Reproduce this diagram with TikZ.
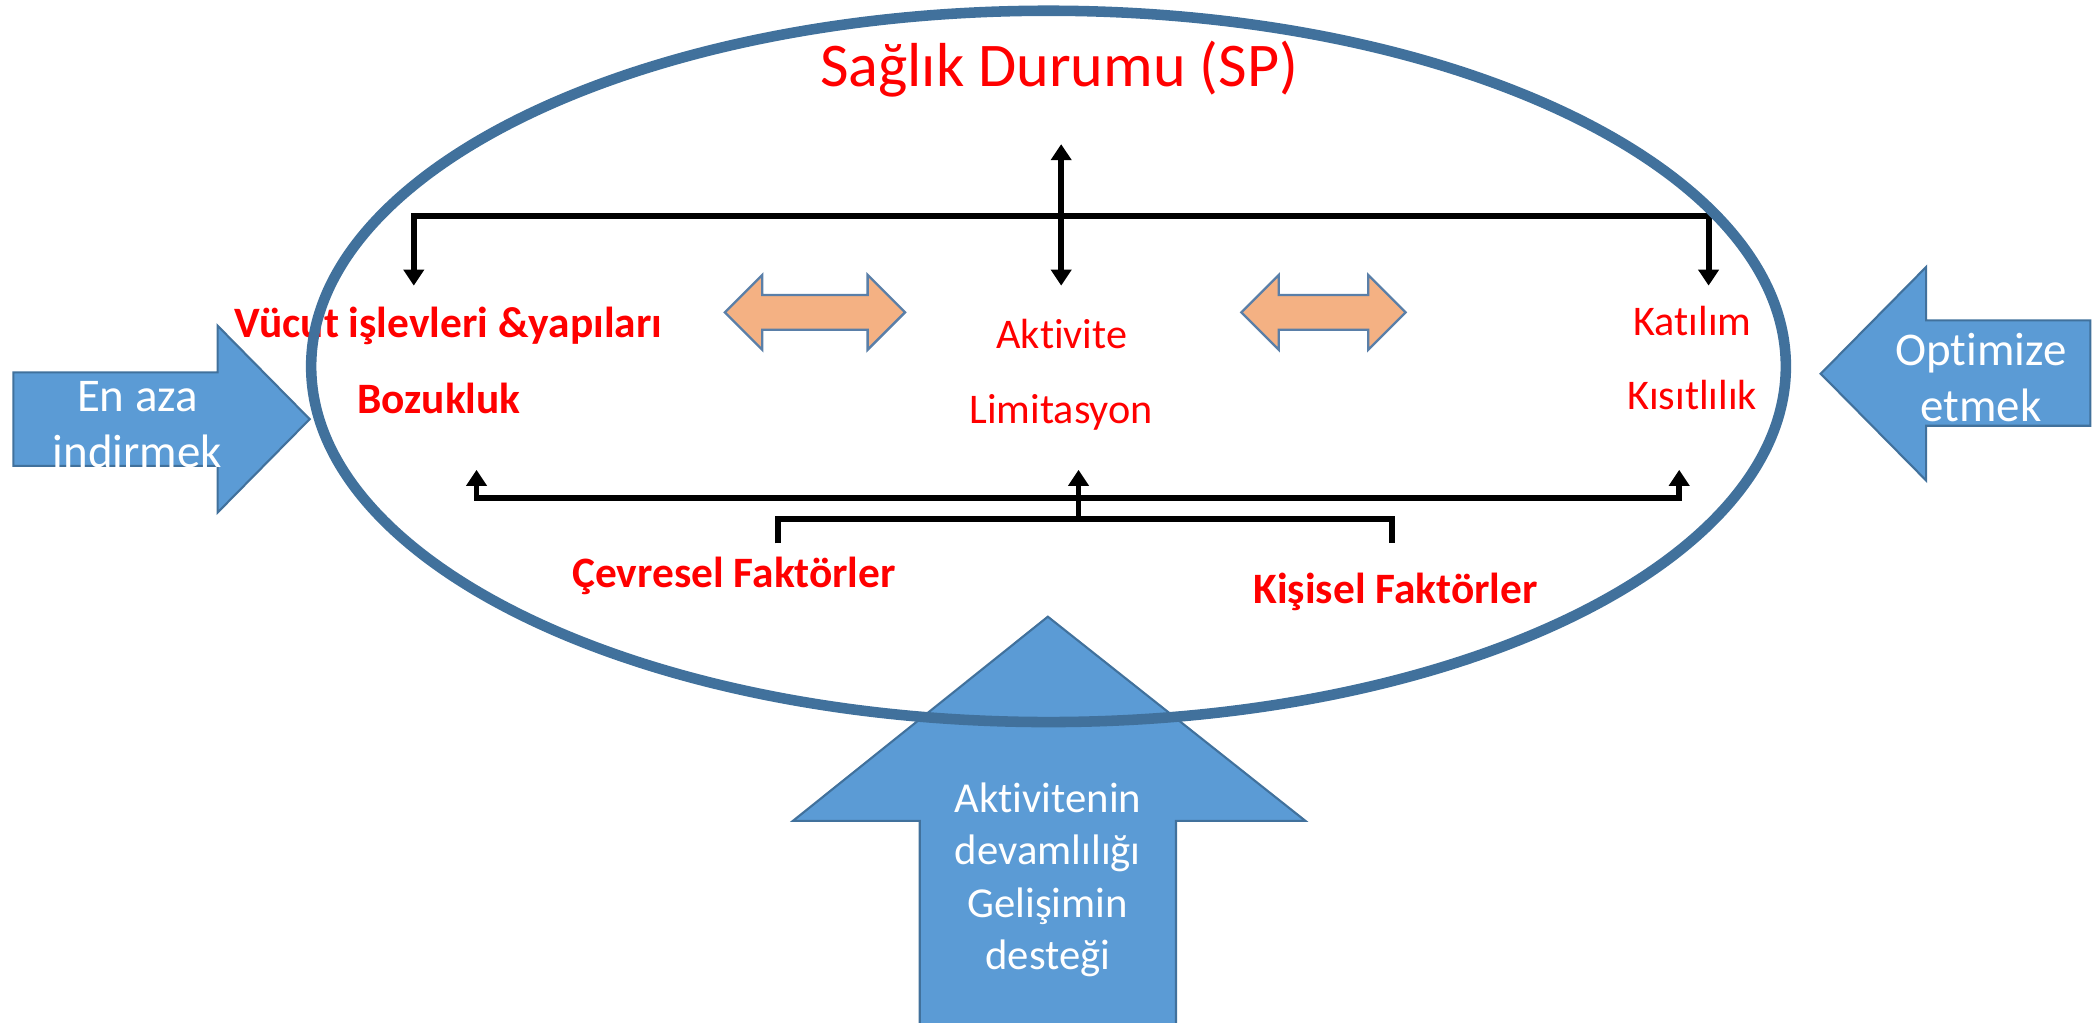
\documentclass[tikz,border=0pt]{standalone}
\usepackage{fontspec}
\setmainfont{Carlito}[Ligatures=NoCommon]
\usetikzlibrary{arrows.meta}
\definecolor{ringblue}{HTML}{41719C}
\definecolor{boxblue}{HTML}{5B9BD5}
\definecolor{peach}{HTML}{F4B183}
\definecolor{peachline}{HTML}{5A7FA8}
\tikzset{
  redtxt/.style={text=red, inner sep=0pt, anchor=base, font=\fontsize{18}{20}\selectfont},
  redbold/.style={text=red, inner sep=0pt, anchor=base, font=\fontsize{18.5}{20}\selectfont\bfseries},
  whitetxt/.style={text=white, inner sep=0pt, align=center, font=\fontsize{20}{23.8}\selectfont},
  link/.style={black, line width=2.5pt, -{Triangle[length=.24cm,width=.3cm]}},
  bluearrow/.style={fill=boxblue, draw=ringblue, line width=.9pt},
  twinarrow/.style={fill=peach, draw=peachline, line width=1pt}
}
\begin{document}
\begin{tikzpicture}[x=.02cm, y=-.02cm]
\useasboundingbox (0,0) rectangle (1568,766);
% Blue arrows
\draw[bluearrow] (10,279)--++(153,0)--++(0,-35)--++(69,70)--++(-69,70)--++(0,-35)--++(-153,0)--cycle;
\draw[bluearrow] (1566,240)--++(-123,0)--++(0,-40)--++(-79,80)--++(79,80)--++(0,-41)--++(123,0)--cycle;
\draw[bluearrow] (689,775)--++(0,-160)--++(-95,0)--++(191,-153)--++(193,153)--++(-97,0)--++(0,160)--cycle;
\node[whitetxt] (enaza) at (103,318) {En aza\\indirmek};
\node[whitetxt] (optim) at (1484,283) {Optimize\\etmek};
\node[whitetxt, font=\fontsize{18.2}{22.4}\selectfont] (devam) at (785,659) {Aktivitenin\\devamlılığı\\Gelişimin\\desteği};
% Orange double arrows
\draw[twinarrow] (543,234)--++(28,-28)--++(0,15)--++(79,0)--++(0,-15)--++(28,28)--++(-28,28)--++(0,-15)--++(-79,0)--++(0,15)--cycle;
\draw[twinarrow] (930,234)--++(28,-28)--++(0,15)--++(67,0)--++(0,-15)--++(28,28)--++(-28,28)--++(0,-15)--++(-67,0)--++(0,15)--cycle;
% Text nodes
\node[redtxt, font=\fontsize{26.5}{30}\selectfont] (SP) at (793.5,64.5) {Sağlık Durumu (SP)};
\node[redbold] (vucut) at (336,253) {Vücut işlevleri \&yapıları};
\node[redbold] (bozuk) at (329,310) {Bozukluk};
\node[redtxt] (aktiv) at (795.5,261) {Aktivite};
\node[redtxt] (limit) at (795,317) {Limitasyon};
\node[redtxt] (katil) at (1268,251) {Katılım};
\node[redtxt] (kisit) at (1268,307) {Kısıtlılık};
\node[redbold] (cevre) at (550,440) {Çevresel Faktörler};
\node[redbold] (kisis) at (1045.5,452) {Kişisel Faktörler};
% Connectors top
\coordinate (SPin) at (795,108);
\coordinate (aktivin) at (795,214);
\coordinate (tophub) at (795,162);
\coordinate (vucutin) at (310,214);
\coordinate (katilin) at (1280,214);
\draw[link, {Triangle[length=.24cm,width=.3cm]}-{Triangle[length=.24cm,width=.3cm]}] (SPin)--(aktivin);
\draw[link] (tophub)-|(vucutin);
\draw[link] (tophub)-|(katilin);
% Connectors bottom
\coordinate (bothub) at (808,373);
\coordinate (bozukin) at (357,352);
\coordinate (limitin) at (808,352);
\coordinate (kisitin) at (1258,352);
\coordinate (brk) at (808,389);
\coordinate (cevrein) at (583,407);
\coordinate (kisisin) at (1043,407);
\draw[link] (bothub)-|(bozukin);
\draw[link] (bothub)-|(kisitin);
\draw[link] (brk)--(limitin);
\draw[black, line width=2.5pt] (cevrein)|-(brk)-|(kisisin);
% Ellipse
\draw[ringblue, line width=4.5pt] (785.5,274.5) ellipse [x radius=11.05cm, y radius=5.33cm];
\end{tikzpicture}
\end{document}
